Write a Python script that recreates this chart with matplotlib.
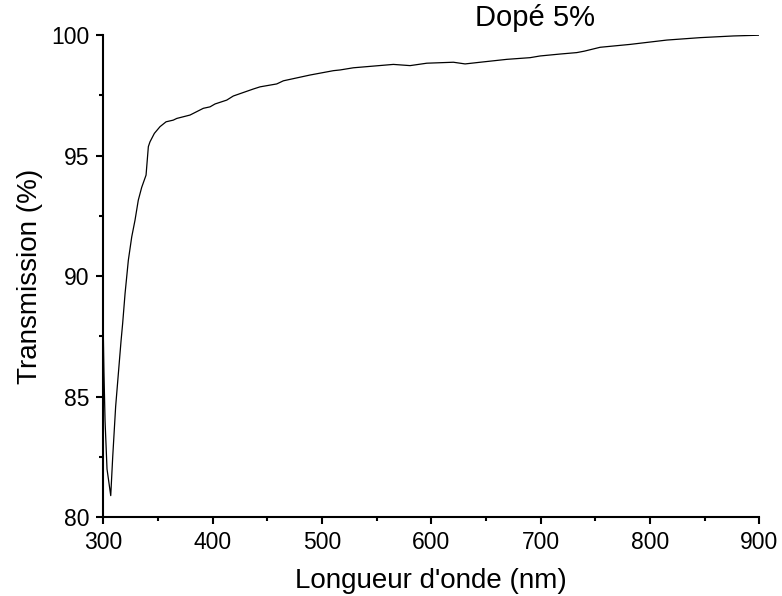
import matplotlib
matplotlib.use("Agg")
import matplotlib.pyplot as plt
from matplotlib.ticker import MultipleLocator

plt.rcParams['font.family'] = ['Liberation Sans', 'DejaVu Sans']

# Transmission spectrum of the 5 % doped film
wavelength_nm = [
    300.0, 300.6, 301.6, 303.4, 306.8, 308.6, 311.3, 316.2, 317.7, 319.9,
    322.9, 326.0, 329.0, 332.0, 335.1, 339.1, 341.2, 342.7, 346.7, 351.9,
    357.4, 364.0, 367.2, 379.3, 391.5, 397.6, 402.2, 412.9, 418.9, 437.2,
    443.4, 458.6, 464.7, 489.1, 510.4, 516.6, 528.7, 547.0, 565.3, 580.6,
    595.9, 620.2, 630.9, 644.7, 669.1, 690.4, 699.5, 717.8, 733.1, 740.0,
    754.4, 781.9, 815.5, 846.0, 876.4, 899.3, 900.0,
]
transmission_pct = [
    87.6, 86.0, 84.0, 82.0, 80.9, 82.5, 84.6, 87.3, 88.04, 89.28,
    90.66, 91.63, 92.32, 93.15, 93.68, 94.19, 95.37, 95.57, 95.92, 96.20,
    96.40, 96.47, 96.54, 96.68, 96.96, 97.02, 97.14, 97.30, 97.47, 97.76,
    97.85, 97.97, 98.10, 98.34, 98.52, 98.55, 98.64, 98.71, 98.78, 98.73,
    98.83, 98.87, 98.80, 98.87, 98.99, 99.06, 99.13, 99.21, 99.27, 99.33,
    99.49, 99.61, 99.79, 99.89, 99.96, 99.99, 100.0,
]

x_ticks = [300, 400, 500, 600, 700, 800, 900]
y_ticks = [80, 85, 90, 95, 100]

fig = plt.figure(figsize=(7.82, 5.96), dpi=100)
ax = fig.add_axes([0.1321, 0.132, 0.971 - 0.1321, 0.9413 - 0.132])

ax.plot(wavelength_nm, transmission_pct, color='black', linewidth=0.9)

ax.set_xlim(300, 900)
ax.set_ylim(80, 100)
ax.set_xticks(x_ticks)
ax.set_yticks(y_ticks)
ax.xaxis.set_minor_locator(MultipleLocator(50))
ax.yaxis.set_minor_locator(MultipleLocator(2.5))

for side in ('top', 'right'):
    ax.spines[side].set_visible(False)
for side in ('left', 'bottom'):
    ax.spines[side].set_linewidth(1.5)

ax.tick_params(which='major', direction='out', length=5, width=1.5,
               labelsize=16.5, pad=5)
ax.tick_params(which='minor', direction='out', length=3, width=1.5)

ax.set_xlabel("Longueur d'onde (nm)", fontsize=20, labelpad=10)
ax.set_ylabel("Transmission (%)", fontsize=20, labelpad=6)

ax.text(695, 100.72, "Dopé 5%", fontsize=21, ha='center', va='center')

fig.savefig("out.png", dpi=100)
